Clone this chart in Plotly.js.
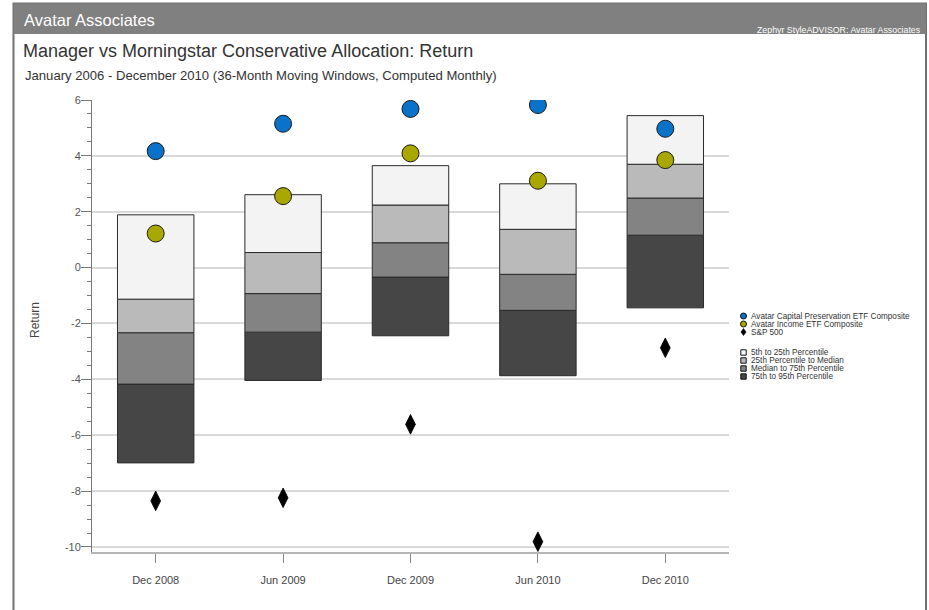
<!DOCTYPE html>
<html><head><meta charset="utf-8">
<script src="https://cdn.plot.ly/plotly-3.0.1.min.js"></script>
<style>html,body{margin:0;padding:0;background:#fff;} #chart{width:929px;height:610px;}</style>
</head><body><div id="chart"></div>
<script>
// ---- data ----
const categories = ["Dec 2008", "Jun 2009", "Dec 2009", "Jun 2010", "Dec 2010"];
const p05 = [1.89, 2.61, 3.65, 3.00, 5.44];
const p25 = [-1.13, 0.54, 2.24, 1.37, 3.70];
const p50 = [-2.33, -0.93, 0.89, -0.24, 2.49];
const p75 = [-4.17, -2.31, -0.34, -1.53, 1.16];
const p95 = [-6.99, -4.04, -2.44, -3.87, -1.44];
const capitalPreservation = [4.17, 5.15, 5.68, 5.82, 4.97];
const incomeETF = [1.22, 2.56, 4.09, 3.11, 3.85];
const sp500 = [-8.35, -8.24, -5.61, -9.81, -2.87];
const yTickVals = [-10, -8, -6, -4, -2, 0, 2, 4, 6];
const yTickText = ["-10", "-8", "-6", "-4", "-2", "0", "2", "4", "6"];
const seriesNames = ["Avatar Capital Preservation ETF Composite", "Avatar Income ETF Composite", "S&P 500"];
const bandNames = ["5th to 25th Percentile", "25th Percentile to Median", "Median to 75th Percentile", "75th to 95th Percentile"];

// ---- styles ----
const W = 929, H = 610;
const M = {l: 92, r: 200, t: 100, b: 58};
const PW = W - M.l - M.r, PH = H - M.t - M.b;
const X = px => (px - M.l) / PW;
const Y = py => (H - M.b - py) / PH;
const FONT = "Liberation Sans, Arial, sans-serif";
const bandColors = ["#f3f3f3", "#bababa", "#838383", "#464646"];
const blue = "#0b72c9", olive = "#a9a800";

function band(lower, upper, name, color) {
  return {
    type: "bar", x: categories, base: lower,
    y: upper.map((u, i) => u - lower[i]),
    name: name, width: 0.6, showlegend: false,
    marker: {color: color, line: {color: "#2a2a2a", width: 1}},
    hoverinfo: "skip"
  };
}

const traces = [
  band(p95, p75, bandNames[3], bandColors[3]),
  band(p75, p50, bandNames[2], bandColors[2]),
  band(p50, p25, bandNames[1], bandColors[1]),
  band(p25, p05, bandNames[0], bandColors[0]),
  {type: "scatter", mode: "markers", x: categories, y: capitalPreservation, name: seriesNames[0], showlegend: false,
   marker: {symbol: "circle", size: 17, color: blue, line: {color: "#1a1a1a", width: 1}}},
  {type: "scatter", mode: "markers", x: categories, y: incomeETF, name: seriesNames[1], showlegend: false,
   marker: {symbol: "circle", size: 17, color: olive, line: {color: "#1a1a1a", width: 1}}},
  {type: "scatter", mode: "markers", x: categories, y: sp500, name: seriesNames[2], showlegend: false,
   marker: {symbol: "diamond-tall", size: 14, color: "#000", line: {color: "#000", width: 0.8}}}
];

const shapes = [
  // frame + header bar
  {type: "rect", xref: "paper", yref: "paper", x0: X(13.5), x1: X(926), y0: Y(640), y1: Y(3.5),
   line: {color: "#707070", width: 2}, fillcolor: "rgba(0,0,0,0)", layer: "below"},
  {type: "rect", xref: "paper", yref: "paper", x0: X(13.5), x1: X(926), y0: Y(34), y1: Y(3.5),
   line: {width: 0}, fillcolor: "#808080", layer: "below"}
];
const annotations = [
  {xref: "paper", yref: "paper", x: X(22), y: Y(20), xanchor: "left", yanchor: "middle", showarrow: false,
   text: "Avatar Associates", font: {family: FONT, size: 16.5, color: "#fff"}},
  {xref: "paper", yref: "paper", x: X(922), y: Y(30.5), xanchor: "right", yanchor: "middle", showarrow: false, borderpad: 0,
   text: "Zephyr StyleADVISOR: Avatar Associates", font: {family: FONT, size: 8.8, color: "#fff"}},
  {xref: "paper", yref: "paper", x: X(21), y: Y(51), xanchor: "left", yanchor: "middle", showarrow: false,
   text: "Manager vs Morningstar Conservative Allocation: Return", font: {family: FONT, size: 18, color: "#333"}},
  {xref: "paper", yref: "paper", x: X(23), y: Y(75), xanchor: "left", yanchor: "middle", showarrow: false,
   text: "January 2006 - December 2010 (36-Month Moving Windows, Computed Monthly)", font: {family: FONT, size: 13.1, color: "#333"}},
  {xref: "paper", yref: "paper", x: X(35), y: Y(320), xanchor: "center", yanchor: "middle", showarrow: false, textangle: -90,
   text: "Return", font: {family: FONT, size: 12, color: "#444"}}
];

// manual compact legend
const lx = 743.5, ltx = 750;
const markerRows = [316, 324, 332];
const markerFill = [blue, olive];
for (let i = 0; i < 2; i++) {
  const cy = markerRows[i];
  shapes.push({type: "circle", xref: "paper", yref: "paper", x0: X(lx - 3), x1: X(lx + 3), y0: Y(cy + 3), y1: Y(cy - 3),
    fillcolor: markerFill[i], line: {color: "#111", width: 1}});
}
{
  const cy = markerRows[2];
  shapes.push({type: "path", xref: "paper", yref: "paper",
    path: `M${X(lx)},${Y(cy - 3.6)} L${X(lx + 2.6)},${Y(cy)} L${X(lx)},${Y(cy + 3.6)} L${X(lx - 2.6)},${Y(cy)} Z`,
    fillcolor: "#000", line: {color: "#000", width: 0.5}});
}
for (let i = 0; i < 3; i++) {
  annotations.push({xref: "paper", yref: "paper", x: X(ltx), y: Y(markerRows[i]), xanchor: "left", yanchor: "middle",
    showarrow: false, borderpad: 0, text: seriesNames[i], font: {family: FONT, size: 8.2, color: "#333"}});
}
const bandRows = [352.5, 360.5, 368.5, 376.5];
for (let i = 0; i < 4; i++) {
  const cy = bandRows[i];
  shapes.push({type: "rect", xref: "paper", yref: "paper", x0: X(lx - 2.7), x1: X(lx + 2.7), y0: Y(cy + 2.7), y1: Y(cy - 2.7),
    fillcolor: i === 0 ? "#fff" : bandColors[i], line: {color: "#111", width: 1}});
  annotations.push({xref: "paper", yref: "paper", x: X(ltx), y: Y(cy), xanchor: "left", yanchor: "middle",
    showarrow: false, borderpad: 0, text: bandNames[i], font: {family: FONT, size: 8.2, color: "#333"}});
}

const layout = {
  width: W, height: H,
  margin: M,
  paper_bgcolor: "#fff", plot_bgcolor: "#fff",
  barmode: "overlay",
  showlegend: false,
  font: {family: FONT, color: "#444"},
  xaxis: {
    type: "category", range: [-0.5, 4.5], fixedrange: true,
    showline: true, linecolor: "#b5b5b5", linewidth: 2,
    ticks: "outside", ticklen: 9, tickcolor: "#888", tickwidth: 1,
    showgrid: false, zeroline: false,
    tickfont: {family: FONT, size: 11, color: "#444"}, ticklabelstandoff: 8
  },
  yaxis: {
    range: [-10.18, 6], fixedrange: true,
    tickmode: "array", tickvals: yTickVals, ticktext: yTickText,
    showline: true, linecolor: "#777", linewidth: 1,
    ticks: "outside", ticklen: 10, tickcolor: "#777", tickwidth: 1,
    showgrid: true, gridcolor: "#d9d9d9", gridwidth: 2, zeroline: false,
    tickfont: {family: FONT, size: 11, color: "#555"}, ticklabelstandoff: -2,
    minor: {tickmode: "linear", tick0: 0, dtick: 0.5, ticks: "outside", ticklen: 4, tickcolor: "#777", showgrid: false}
  },
  shapes: shapes,
  annotations: annotations
};

Plotly.newPlot("chart", traces, layout, {displayModeBar: false, staticPlot: true});
</script>
</body></html>
